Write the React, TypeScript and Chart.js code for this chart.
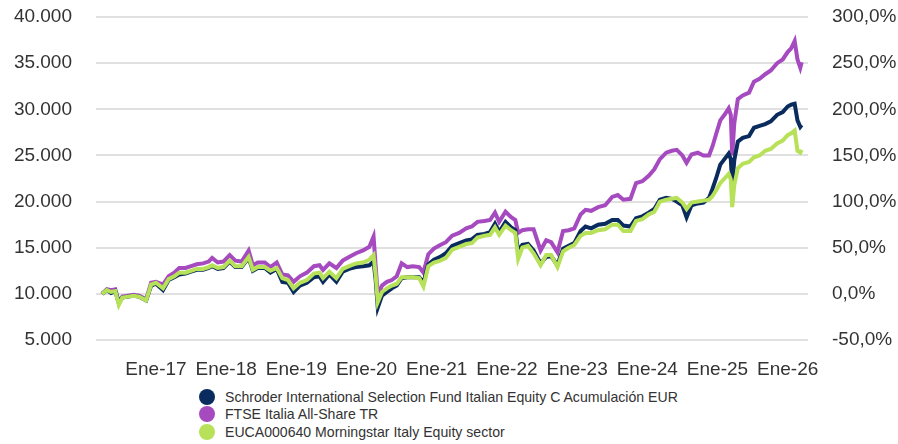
import React, { useEffect, useRef } from 'react';
import { Chart, registerables } from 'chart.js';

Chart.register(...registerables);

// Time in decimal years
const times = [
  2016.23, 2016.30, 2016.36, 2016.42, 2016.47, 2016.52, 2016.60, 2016.68, 2016.76, 2016.86,
  2016.93, 2017.00, 2017.10, 2017.18, 2017.26, 2017.33, 2017.42, 2017.50, 2017.58, 2017.67,
  2017.75, 2017.80, 2017.88, 2017.96, 2018.05, 2018.13, 2018.22, 2018.32, 2018.38, 2018.45,
  2018.55, 2018.63, 2018.72, 2018.80, 2018.88, 2018.96, 2019.05, 2019.15, 2019.25, 2019.33,
  2019.38, 2019.47, 2019.57, 2019.66, 2019.75, 2019.85, 2019.95, 2020.04, 2020.10, 2020.13,
  2020.16, 2020.22, 2020.29, 2020.36, 2020.43, 2020.50, 2020.58, 2020.66, 2020.75, 2020.81,
  2020.88, 2020.96, 2021.05, 2021.13, 2021.22, 2021.32, 2021.42, 2021.50, 2021.58, 2021.68,
  2021.76, 2021.83, 2021.89, 2021.98, 2022.06, 2022.12, 2022.16, 2022.22, 2022.30, 2022.38,
  2022.48, 2022.56, 2022.63, 2022.72, 2022.80, 2022.88, 2022.96, 2023.05, 2023.12, 2023.20,
  2023.30, 2023.40, 2023.50, 2023.58, 2023.66, 2023.76, 2023.84, 2023.93, 2024.02, 2024.10,
  2024.18, 2024.27, 2024.35, 2024.42, 2024.50, 2024.56, 2024.63, 2024.72, 2024.80, 2024.88,
  2024.93, 2024.98, 2025.04, 2025.10, 2025.16, 2025.19, 2025.21, 2025.24, 2025.29, 2025.36,
  2025.45, 2025.52, 2025.60, 2025.68, 2025.76, 2025.85, 2025.93, 2026.00, 2026.05, 2026.10,
  2026.14, 2026.18, 2026.20,
];

// Values in thousands (growth of 10.000)
const schroder = [
  10.0, 10.4, 10.1, 10.3, 9.0, 9.6, 9.7, 9.8, 9.7, 9.3,
  10.9, 11.1, 10.4, 11.5, 11.8, 12.1, 12.2, 12.4, 12.6, 12.6,
  12.8, 13.0, 12.7, 12.8, 13.5, 12.9, 12.9, 13.9, 12.5, 12.8,
  12.8, 12.3, 12.7, 11.3, 11.2, 10.2, 10.9, 11.2, 11.8, 11.9,
  11.3, 12.1, 11.3, 12.4, 12.7, 12.9, 13.0, 13.1, 13.5, 11.5,
  8.5, 9.8, 10.2, 10.6, 10.9, 11.7, 11.8, 11.8, 11.8, 11.2,
  13.2, 13.7, 14.0, 14.4, 15.2, 15.5, 15.8, 15.9, 16.4, 16.5,
  16.7, 17.6, 16.7, 17.8, 17.2, 16.9, 14.6, 15.3, 15.4, 14.7,
  13.3, 14.0, 14.1, 13.1, 14.9, 15.2, 15.5, 16.8, 17.3, 17.1,
  17.5, 17.6, 18.0, 18.0, 17.4, 17.3, 18.2, 18.4, 18.8, 19.2,
  20.2, 20.4, 20.3, 20.0, 19.6, 18.3, 19.6, 19.8, 19.9, 20.4,
  21.4, 22.5, 24.0, 24.6, 25.2, 24.6, 21.8, 24.5, 26.5, 26.9,
  27.1, 28.0, 28.2, 28.4, 28.7, 29.4, 29.7, 30.3, 30.5, 30.6,
  28.8, 28.1, 28.3,
];

const ftse = [
  10.0, 10.5, 10.4, 10.5, 9.1, 9.7, 9.8, 9.9, 9.8, 9.4,
  11.2, 11.3, 11.0, 11.9, 12.3, 12.8, 12.8, 13.0, 13.2, 13.3,
  13.5, 13.9, 13.4, 13.5, 14.2, 13.6, 13.5, 14.7, 13.1, 13.4,
  13.4, 12.9, 13.4, 12.1, 12.0, 11.3, 11.9, 12.3, 13.0, 13.1,
  12.6, 13.3, 12.8, 13.6, 14.0, 14.4, 14.7, 15.1, 16.2, 13.0,
  9.9, 10.9, 11.3, 11.5, 11.9, 13.3, 12.9, 13.0, 12.9, 12.3,
  14.3, 14.9, 15.3, 15.6, 16.3, 16.6, 17.1, 17.3, 17.8, 17.9,
  18.0, 18.8, 17.8, 18.9, 18.3, 18.0, 16.6, 16.9, 17.0, 17.0,
  14.7, 15.8, 15.6, 14.5, 16.8, 16.9, 17.1, 18.6, 19.1, 19.0,
  19.4, 19.6, 20.5, 20.7, 20.2, 20.3, 22.0, 22.2, 22.8, 23.5,
  24.6, 25.3, 25.5, 25.6, 25.0, 24.2, 25.1, 25.3, 25.0, 25.0,
  26.0, 27.3, 28.8, 29.4, 30.1, 29.4, 25.0, 28.5, 31.1, 31.5,
  31.8, 33.0, 33.3, 33.8, 34.2, 35.0, 35.4, 36.2, 36.6, 37.4,
  35.4, 34.5, 35.1,
];

const sector = [
  10.0, 10.4, 10.2, 10.3, 8.8, 9.6, 9.7, 9.8, 9.7, 9.3,
  11.0, 11.2, 10.6, 11.6, 11.9, 12.3, 12.3, 12.5, 12.7, 12.7,
  12.9, 13.1, 12.8, 12.9, 13.6, 13.0, 13.0, 14.0, 12.6, 12.9,
  12.9, 12.5, 12.8, 11.7, 11.5, 10.6, 11.2, 11.5, 12.2, 12.3,
  11.7, 12.4, 11.7, 12.7, 13.0, 13.3, 13.4, 13.7, 14.2, 12.0,
  9.1, 10.2, 10.6, 10.9, 11.1, 11.8, 11.8, 11.8, 11.7, 10.8,
  13.0, 13.4, 13.6, 13.9, 14.8, 15.1, 15.4, 15.5, 16.1, 16.3,
  16.4, 17.2, 16.4, 17.4, 16.9, 16.6, 13.8, 15.0, 15.2, 14.4,
  13.1, 14.2, 14.2, 12.9, 14.6, 15.0, 15.3, 16.3, 16.6, 16.6,
  16.9, 17.0, 17.5, 17.5, 16.8, 16.8, 17.9, 18.1, 18.6, 18.9,
  20.0, 20.2, 20.3, 20.4, 19.9, 19.2, 19.9, 20.0, 20.1, 20.2,
  20.6, 21.2, 22.0, 22.5, 23.0, 22.4, 19.4, 21.8, 23.6, 24.1,
  24.3, 24.8, 25.0, 25.5, 25.7, 26.3, 26.6, 27.2, 27.4, 27.7,
  25.5, 25.3, 25.6,
];

const tickYears = [2017, 2018, 2019, 2020, 2021, 2022, 2023, 2024, 2025, 2026];
const tickLabels = ['Ene-17', 'Ene-18', 'Ene-19', 'Ene-20', 'Ene-21', 'Ene-22', 'Ene-23', 'Ene-24', 'Ene-25', 'Ene-26'];

const seriesNames = [
  'Schroder International Selection Fund Italian Equity C Acumulación EUR',
  'FTSE Italia All-Share TR',
  'EUCA000640 Morningstar Italy Equity sector',
];
const seriesColors = ['#0a2b5e', '#a64abf', '#b7e158'];

const FONT = '"Liberation Sans", Arial, sans-serif';

export default function App() {
  const ref = useRef<HTMLCanvasElement>(null);

  useEffect(() => {
    document.body.style.margin = '0';
    const allSeries = [schroder, ftse, sector];
    const drawOrder = [1, 2, 0];
    const fixVertical = (w: number) => (scale: any) => {
      scale.width = w;
      scale.paddingTop = 17;
      scale.paddingBottom = 0;
    };
    const chart = new Chart(ref.current as HTMLCanvasElement, {
      type: 'line',
      data: {
        datasets: allSeries.map((s, i) => ({
          label: seriesNames[i],
          data: s.map((v, j) => ({ x: times[j], y: v * 1000 })),
          borderColor: seriesColors[i],
          backgroundColor: seriesColors[i],
          borderWidth: 4,
          pointRadius: 0,
          tension: 0,
          order: drawOrder[i],
          yAxisID: 'y',
        })),
      },
      options: {
        responsive: false,
        animation: false,
        layout: { padding: 0 },
        plugins: { legend: { display: false }, tooltip: { enabled: false } },
        scales: {
          x: {
            type: 'linear',
            min: 2016.145,
            max: 2026.29,
            grid: { display: false },
            border: { display: false },
            afterBuildTicks: (scale: any) => {
              scale.ticks = tickYears.map((v) => ({ value: v }));
            },
            afterFit: (scale: any) => {
              scale.height = 40;
              scale.paddingLeft = 0;
              scale.paddingRight = 0;
            },
            ticks: {
              autoSkip: false,
              maxRotation: 0,
              padding: 10,
              color: '#333333',
              font: { family: FONT, size: 19 },
              callback: (v: any) => {
                const i = tickYears.indexOf(Number(v));
                return i >= 0 ? tickLabels[i] : '';
              },
            },
          },
          y: {
            position: 'left',
            min: 5000,
            max: 40000,
            grid: { color: '#e0e0e0', lineWidth: 2, drawTicks: false },
            border: { display: false },
            afterFit: fixVertical(96),
            ticks: {
              stepSize: 5000,
              padding: 24,
              color: '#333333',
              font: { family: FONT, size: 19 },
              callback: (v: any) => Number(v).toLocaleString('de-DE'),
            },
          },
          y2: {
            position: 'right',
            min: -50,
            max: 300,
            grid: { display: false, drawTicks: false },
            border: { display: false },
            afterFit: fixVertical(90),
            ticks: {
              stepSize: 50,
              padding: 24,
              color: '#333333',
              font: { family: FONT, size: 19 },
              callback: (v: any) => Number(v).toFixed(1).replace('.', ',') + '%',
            },
          },
        },
      },
    });
    return () => chart.destroy();
  }, []);

  return (
    <div style={{ position: 'relative', width: 898, height: 444, fontFamily: FONT, background: '#fff' }}>
      <canvas ref={ref} width={898} height={380} style={{ display: 'block' }} />
      <div style={{ position: 'absolute', left: 199, top: 388 }}>
        {seriesNames.map((n, i) => (
          <div key={n} style={{ display: 'flex', alignItems: 'center', height: 17.5 }}>
            <span
              style={{
                display: 'inline-block',
                width: 16,
                height: 16,
                borderRadius: '50%',
                background: seriesColors[i],
                marginRight: 10,
              }}
            />
            <span style={{ fontSize: 14.1, color: '#333333', whiteSpace: 'nowrap' }}>{n}</span>
          </div>
        ))}
      </div>
    </div>
  );
}
